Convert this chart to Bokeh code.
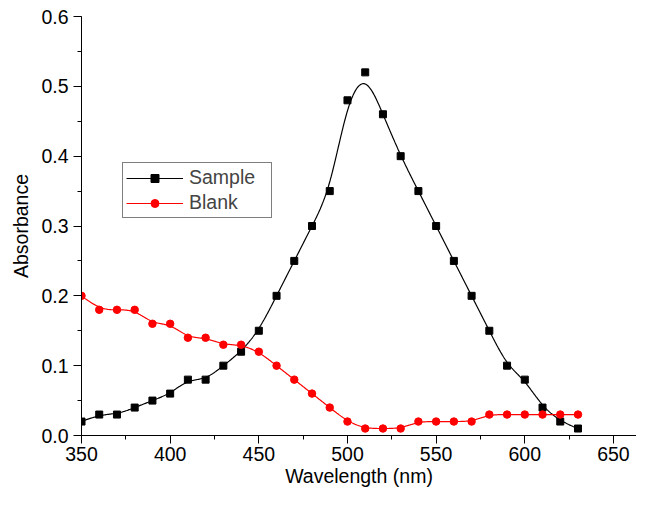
import numpy as np
from bokeh.plotting import figure
from bokeh.models import Range1d, SingleIntervalTicker, Legend, LegendItem, NumeralTickFormatter
from bokeh.embed import file_html
from bokeh.resources import INLINE

wavelength = [350, 360, 370, 380, 390, 400, 410, 420, 430, 440, 450, 460, 470, 480, 490,
              500, 510, 520, 530, 540, 550, 560, 570, 580, 590, 600, 610, 620, 630]
sample = [0.02, 0.03, 0.03, 0.04, 0.05, 0.06, 0.08, 0.08, 0.10, 0.12, 0.15, 0.20, 0.25, 0.30, 0.35,
          0.48, 0.52, 0.46, 0.40, 0.35, 0.30, 0.25, 0.20, 0.15, 0.10, 0.08, 0.04, 0.02, 0.01]
blank = [0.20, 0.18, 0.18, 0.18, 0.16, 0.16, 0.14, 0.14, 0.13, 0.13, 0.12, 0.10, 0.08, 0.06, 0.04,
         0.02, 0.01, 0.01, 0.01, 0.02, 0.02, 0.02, 0.02, 0.03, 0.03, 0.03, 0.03, 0.03, 0.03]

FONT = "Liberation Sans"
FS = "19.5px"


def bspline(cx, cy, k=3, num=800):
    cx = np.asarray(cx, float)
    cy = np.asarray(cy, float)
    n = len(cx)
    knots = np.concatenate([np.zeros(k + 1), np.arange(1, n - k), np.full(k + 1, n - k)]).astype(float)
    t = np.linspace(0, n - k, num)
    t[-1] -= 1e-9
    m = len(knots) - 1
    N = np.zeros((num, m))
    for i in range(m):
        N[:, i] = ((knots[i] <= t) & (t < knots[i + 1])).astype(float)
    for d in range(1, k + 1):
        Nn = np.zeros((num, m - d))
        for i in range(m - d):
            a = knots[i + d] - knots[i]
            b = knots[i + d + 1] - knots[i + 1]
            term = np.zeros(num)
            if a > 0:
                term += (t - knots[i]) / a * N[:, i]
            if b > 0:
                term += (knots[i + d + 1] - t) / b * N[:, i + 1]
            Nn[:, i] = term
        N = Nn
    return N @ cx, N @ cy


p = figure(width=636, height=489, output_backend="svg", toolbar_location=None,
           x_range=Range1d(350, 663), y_range=Range1d(0, 0.6000001),
           min_border_left=81, min_border_top=16, min_border_right=0, min_border_bottom=52)
p.outline_line_color = None
p.grid.visible = False
p.background_fill_color = "white"
p.border_fill_color = "white"

p.xaxis.ticker = SingleIntervalTicker(interval=50, num_minor_ticks=2)
p.yaxis.ticker = SingleIntervalTicker(interval=0.1, num_minor_ticks=2)
p.yaxis.formatter = NumeralTickFormatter(format="0.0")
for ax in (p.xaxis, p.yaxis):
    ax.major_tick_out = 8
    ax.major_tick_in = 0
    ax.minor_tick_out = 4
    ax.minor_tick_in = 0
    ax.axis_line_color = "black"
    ax.major_tick_line_color = "black"
    ax.minor_tick_line_color = "black"
    ax.major_label_text_font = FONT
    ax.major_label_text_font_size = FS
    ax.major_label_text_color = "black"
    ax.axis_label_text_font = FONT
    ax.axis_label_text_font_size = FS
    ax.axis_label_text_font_style = "normal"
    ax.axis_label_text_color = "black"
p.xaxis.major_label_standoff = 3
p.yaxis.major_label_standoff = 5
p.xaxis.axis_label = "Wavelength (nm)"
p.yaxis.axis_label = "Absorbance"
p.xaxis.axis_label_standoff = 1
p.yaxis.axis_label_standoff = 6

sx, sy = bspline(wavelength, sample)
bx, by = bspline(wavelength, blank)

l1 = p.line(sx, sy, line_color="black", line_width=1.2)
m1 = p.scatter(wavelength, sample, marker="square", size=7, color="black")
l2 = p.line(bx, by, line_color="#ff0000", line_width=1.2)
m2 = p.scatter(wavelength, blank, marker="circle", size=7.5, color="#ff0000")

legend = Legend(items=[LegendItem(label="Sample", renderers=[l1, m1]),
                       LegendItem(label="Blank", renderers=[l2, m2])],
                location=(41, 217), padding=3, spacing=2, margin=0,
                glyph_width=57, glyph_height=20, label_height=20, label_width=79,
                label_standoff=6, label_text_font=FONT, label_text_font_size=FS,
                border_line_color="black", border_line_width=1,
                background_fill_color="white", background_fill_alpha=1)
p.add_layout(legend, "center")

open("out.html", "w").write(file_html(p, INLINE))
